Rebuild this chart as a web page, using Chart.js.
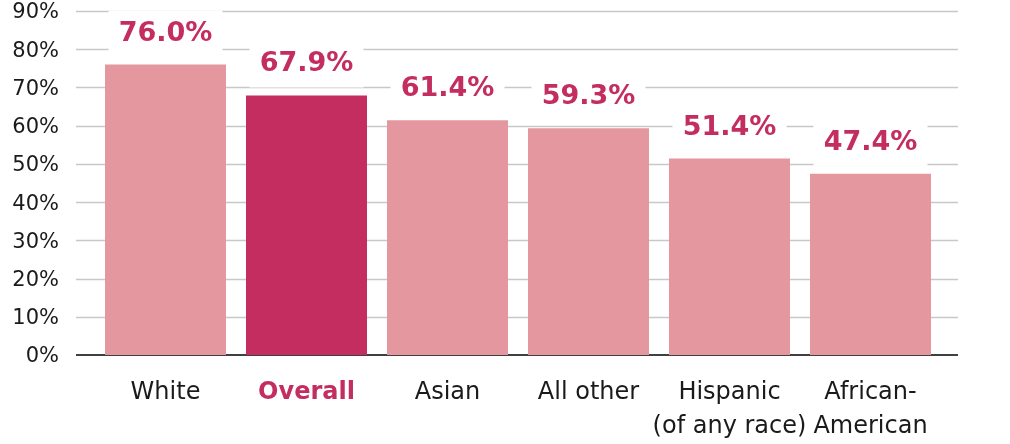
<!DOCTYPE html>
<html>
<head>
<meta charset="utf-8">
<script src="https://cdn.jsdelivr.net/npm/chart.js@4/dist/chart.umd.min.js"></script>
<style>
body{margin:0;background:#fff}
#wrap{width:1010px;height:444px}
</style>
</head>
<body>
<div id="wrap"><canvas id="chart" width="1010" height="444"></canvas></div>
<script>
let categories=[["White"],["Overall"],["Asian"],["All other"],["Hispanic","(of any race)"],["African-","American"]]
let values=[76.0,67.9,61.4,59.3,51.4,47.4]
let highlight=1

let light="#e4979f"
let dark="#c32d60"
let font="DejaVu Sans"

let barColors=values.map((v,i)=>i==highlight?dark:light)

// gridlines + axis line, a bit wider than the bars area
let gridPlugin={
id:"grid",
beforeDatasetsDraw(chart){
let c=chart.ctx
let y=chart.scales.y
let a=chart.chartArea
c.save()
for(let v=10;v<=90;v+=10){
let py=Math.round(y.getPixelForValue(v))+0.5
c.strokeStyle="#c8c8c8"
c.lineWidth=1.5
c.beginPath()
c.moveTo(a.left-19,py)
c.lineTo(a.right+17,py)
c.stroke()
}
let p0=y.getPixelForValue(0)
c.strokeStyle="#000"
c.lineWidth=1.5
c.beginPath()
c.moveTo(a.left-19,p0)
c.lineTo(a.right+17,p0)
c.stroke()
c.restore()
}
}

// value labels on white boxes above bars
let labelPlugin={
id:"labels",
afterDatasetsDraw(chart){
let c=chart.ctx
let meta=chart.getDatasetMeta(0)
c.save()
c.font="bold 27px '"+font+"'"
c.textAlign="center"
c.textBaseline="middle"
meta.data.forEach((bar,i)=>{
let ty=bar.y-31
c.fillStyle="#fff"
c.fillRect(bar.x-57,ty-23,114,46)
c.fillStyle=dark
c.fillText(values[i].toFixed(1)+"%",bar.x,ty)
})
c.restore()
}
}

new Chart(document.getElementById("chart"),{
type:"bar",
data:{
labels:categories,
datasets:[{
data:values,
backgroundColor:barColors,
barPercentage:1,
categoryPercentage:0.858
}]
},
options:{
responsive:false,
animation:false,
layout:{padding:{top:11,right:69,left:0,bottom:0}},
plugins:{legend:{display:false},tooltip:{enabled:false}},
scales:{
x:{
grid:{display:false},
border:{display:false},
afterFit(s){s.height=89;s.paddingLeft=0;s.paddingRight=0},
ticks:{
padding:12,
autoSkip:false,
maxRotation:0,
color:ctx=>ctx.index==highlight?dark:"#1a1a1a",
font:ctx=>({family:font,size:24,weight:ctx.index==highlight?"bold":"normal",lineHeight:1.45})
}
},
y:{
min:0,
max:90,
grid:{display:false},
border:{display:false},
afterFit(s){s.width=95;s.paddingTop=0;s.paddingBottom=0},
ticks:{
stepSize:10,
padding:28,
labelOffset:2,
color:"#1a1a1a",
font:{family:font,size:21},
callback:v=>v+"%"
}
}
}
},
plugins:[gridPlugin,labelPlugin]
})
</script>
</body>
</html>
